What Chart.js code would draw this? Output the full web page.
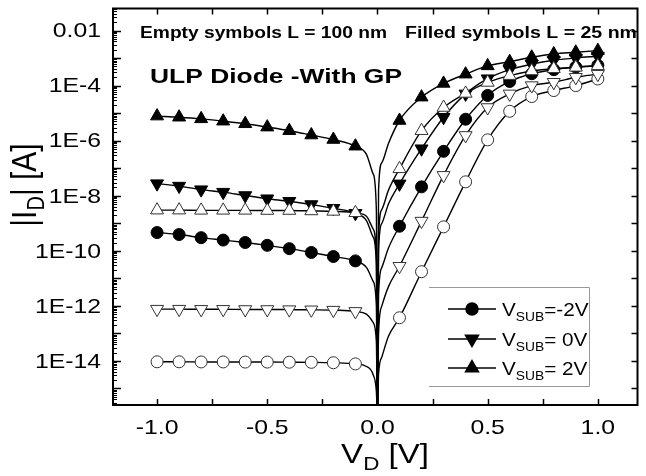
<!DOCTYPE html>
<html>
<head>
<meta charset="utf-8">
<script src="https://cdn.jsdelivr.net/npm/chart.js@4/dist/chart.umd.min.js"></script>
<style>
  html, body { margin: 0; padding: 0; background: #fff; }
  #wrap { width: 646px; height: 476px; }
</style>
</head>
<body>
<div id="wrap"><canvas id="graph1" width="646" height="476"></canvas></div>
<script>
// drain voltage at the measured points
const vNeg = [-1.0, -0.9, -0.8, -0.7, -0.6, -0.5, -0.4, -0.3, -0.2, -0.1];
const vPos = [0.1, 0.2, 0.3, 0.4, 0.5, 0.6, 0.7, 0.8, 0.9, 1.0];
// extra voltages where the fitted lines dive down to V=0
const vTail = [-0.05, -0.02, -0.005, 0, 0.005, 0.02, 0.05];

// |I_D| [A], L = 25 nm (filled symbols)
const sub2V_L25_neg = [7.8e-6, 7.1e-6, 6.2e-6, 5.1e-6, 4.1e-6, 3.1e-6, 2.3e-6, 1.6e-6, 1.1e-6, 6.3e-7];
const sub2V_L25_pos = [5.4e-6, 3.8e-5, 1.2e-4, 2.6e-4, 5.2e-4, 7.4e-4, 1.07e-3, 1.41e-3, 1.62e-3, 1.86e-3];
const sub2V_L25_tail = [3.2e-7, 6.3e-8, 3.2e-9, 1e-16, 1.6e-8, 1.6e-7, 7.9e-7];

const sub0V_L25_neg = [2.75e-8, 2.24e-8, 1.66e-8, 1.35e-8, 1.02e-8, 7.8e-9, 6.3e-9, 4.8e-9, 3.5e-9, 2.3e-9];
const sub0V_L25_pos = [2.7e-8, 5.1e-7, 7.1e-6, 5.0e-5, 1.78e-4, 3.8e-4, 6.0e-4, 8.3e-4, 1.02e-3, 1.17e-3];
const sub0V_L25_tail = [1.26e-9, 3.2e-10, 3.2e-11, 1e-16, 1e-10, 1e-9, 5e-9];

const subM2V_L25_neg = [4.6e-10, 3.9e-10, 3.0e-10, 2.45e-10, 2.0e-10, 1.58e-10, 1.2e-10, 8.7e-11, 6.2e-11, 4.3e-11];
const subM2V_L25_pos = [7.8e-10, 2.1e-8, 4.1e-7, 6.0e-6, 4.4e-5, 1.41e-4, 2.7e-4, 3.8e-4, 4.7e-4, 5.4e-4];
const subM2V_L25_tail = [2.5e-11, 7.9e-12, 1e-12, 1e-16, 2.5e-12, 2.5e-11, 1.26e-10];

// |I_D| [A], L = 100 nm (empty symbols)
const sub2V_L100_neg = [3.0e-9, 3.0e-9, 2.95e-9, 2.95e-9, 2.95e-9, 2.9e-9, 2.9e-9, 2.8e-9, 2.7e-9, 2.4e-9];
const sub2V_L100_pos = [9.5e-8, 2.3e-6, 1.6e-5, 5.2e-5, 1.3e-4, 2.3e-4, 3.4e-4, 4.1e-4, 4.6e-4, 5.2e-4];
const sub2V_L100_tail = [1.8e-9, 6.3e-10, 6.3e-11, 1e-16, 3.2e-10, 3.2e-9, 1.6e-8];

const sub0V_L100_neg = [7.6e-13, 7.6e-13, 7.5e-13, 7.5e-13, 7.4e-13, 7.4e-13, 7.3e-13, 7.2e-13, 7.0e-13, 6.3e-13];
const sub0V_L100_pos = [2.75e-11, 1.2e-9, 5.5e-8, 1.55e-6, 1.6e-5, 5.0e-5, 1.0e-4, 1.32e-4, 2.0e-4, 2.6e-4];
const sub0V_L100_tail = [5e-13, 2.5e-13, 5e-14, 1e-16, 1e-13, 1e-12, 5e-12];

const subM2V_L100_neg = [9.3e-15, 9.3e-15, 9.2e-15, 9.2e-15, 9.1e-15, 9.1e-15, 9.0e-15, 8.9e-15, 8.6e-15, 7.8e-15];
const subM2V_L100_pos = [3.7e-13, 1.74e-11, 7.4e-10, 3.2e-8, 1.07e-6, 1.17e-5, 4.0e-5, 6.6e-5, 1.0e-4, 1.74e-4];
const subM2V_L100_tail = [6.3e-15, 3.2e-15, 7.9e-16, 1e-16, 3.2e-15, 1.4e-14, 7.9e-14];

// axis ticks
const xTickVals = [-1.0, -0.5, 0.0, 0.5, 1.0];
const xTickLabels = ["-1.0", "-0.5", "0.0", "0.5", "1.0"];
const xMinorVals = [-1.0, -0.75, -0.5, -0.25, 0.0, 0.25, 0.5, 0.75, 1.0];
const yTickVals = [1e-2, 1e-4, 1e-6, 1e-8, 1e-10, 1e-12, 1e-14];
const yTickLabels = ["0.01", "1E-4", "1E-6", "1E-8", "1E-10", "1E-12", "1E-14"];

const legendLabels = ["-2V", " 0V", " 2V"];

const FONT = '"Liberation Sans", Arial, sans-serif';

function pts(xs, ys) {
  return xs.map((x, i) => ({x: x, y: ys[i]}));
}

function markerSet(neg, pos, style, rotation, filled) {
  return {
    data: pts(vNeg.concat(vPos), neg.concat(pos)),
    showLine: false,
    pointStyle: style,
    rotation: rotation,
    pointRadius: style === "circle" ? 6 : 7.5,
    pointBackgroundColor: filled ? "#000" : "#fff",
    pointBorderColor: filled ? "#000" : "#333",
    pointBorderWidth: 1,
    pointHoverRadius: 0,
  };
}

function curveSet(neg, tail, pos) {
  const xs = vNeg.concat(vTail, vPos);
  const ys = neg.concat(tail, pos);
  return {
    data: pts(xs, ys),
    showLine: true,
    pointRadius: 0,
    borderColor: "#000",
    borderWidth: 1.4,
    cubicInterpolationMode: "monotone",
  };
}

function stretchText(ctx, text, x, y, sx, align) {
  ctx.save();
  ctx.translate(x, y);
  ctx.scale(sx, 1);
  ctx.textAlign = align;
  ctx.fillText(text, 0, 0);
  ctx.restore();
}

function fitText(ctx, text, x0, x1, y) {
  const w = ctx.measureText(text).width;
  stretchText(ctx, text, x0, y, (x1 - x0) / w, "left");
}

// text with a subscript; parts = [[text, size, dy], ...]
function richText(ctx, parts, x, y, sx, align, bold) {
  let total = 0;
  const widths = parts.map(p => {
    ctx.font = (bold ? "bold " : "") + p[1] + "px " + FONT;
    const w = ctx.measureText(p[0]).width;
    total += w;
    return w;
  });
  ctx.save();
  ctx.translate(x, y);
  ctx.scale(sx, 1);
  let cx = align === "center" ? -total / 2 : 0;
  ctx.textAlign = "left";
  parts.forEach((p, i) => {
    ctx.font = (bold ? "bold " : "") + p[1] + "px " + FONT;
    ctx.fillText(p[0], cx, p[2]);
    cx += widths[i];
  });
  ctx.restore();
}

function marker(ctx, style, rotation, x, y) {
  const opts = {pointStyle: style, rotation: rotation, radius: style === "circle" ? 6 : 7.5, borderWidth: 1};
  ctx.fillStyle = "#000";
  ctx.strokeStyle = "#000";
  Chart.helpers.drawPoint(ctx, opts, x, y);
}

const decor = {
  id: "decor",
  afterDraw(chart) {
    const ctx = chart.ctx;
    const a = chart.chartArea;
    const xs = chart.scales.x;
    const ys = chart.scales.y;

    ctx.save();
    ctx.strokeStyle = "#000";
    ctx.fillStyle = "#000";
    ctx.lineWidth = 1.5;

    function seg(x0, y0, x1, y1) {
      ctx.beginPath();
      ctx.moveTo(x0, y0);
      ctx.lineTo(x1, y1);
      ctx.stroke();
    }

    // x ticks, pointing inwards on bottom and top
    xMinorVals.forEach(v => {
      const px = Math.round(xs.getPixelForValue(v)) + 0.5;
      seg(px, a.bottom, px, a.bottom - 6);
      seg(px, a.top, px, a.top + 6);
    });

    // y ticks: decades + minors on the left, decades on the right
    for (let e = -16; e <= -1; e++) {
      for (let m = 1; m < 10; m++) {
        const v = m * Math.pow(10, e);
        if (v < ys.min || v > ys.max) continue;
        const py = Math.round(ys.getPixelForValue(v)) + 0.5;
        if (m === 1) {
          seg(a.left, py, a.left + 8, py);
          seg(a.right, py, a.right - 6, py);
        } else {
          ctx.lineWidth = 1;
          seg(a.left, py, a.left + 4, py);
          ctx.lineWidth = 1.5;
        }
      }
    }

    // frame
    ctx.lineWidth = 2;
    ctx.strokeRect(a.left, a.top, a.right - a.left, a.bottom - a.top);

    // tick labels
    ctx.font = "21px " + FONT;
    ctx.textBaseline = "middle";
    yTickVals.forEach((v, i) => {
      stretchText(ctx, yTickLabels[i], 101, ys.getPixelForValue(v) + 1, 1.18, "right");
    });
    xTickVals.forEach((v, i) => {
      stretchText(ctx, xTickLabels[i], xs.getPixelForValue(v), 428, 1.18, "center");
    });

    // axis titles
    ctx.textBaseline = "alphabetic";
    richText(ctx, [["V", 28, 0], ["D", 19, 7], [" [V]", 28, 0]], 385, 463, 1.18, "center");
    ctx.save();
    ctx.translate(36, 185);
    ctx.scale(1.18, 1);
    ctx.rotate(-Math.PI / 2);
    richText(ctx, [["|I", 30, 0], ["D", 20, 7], ["| [A]", 30, 0]], 0, 0, 1, "center");
    ctx.restore();

    // annotations
    ctx.font = "bold 16px " + FONT;
    fitText(ctx, "Empty symbols L = 100 nm", 140, 387, 38);
    fitText(ctx, "Filled symbols L = 25 nm", 405, 637, 38);
    ctx.font = "bold 21px " + FONT;
    fitText(ctx, "ULP Diode -With GP", 150, 402, 83);

    // legend
    ctx.strokeStyle = "#999";
    ctx.lineWidth = 1;
    ctx.beginPath();
    ctx.moveTo(429, 287.5);
    ctx.lineTo(589.5, 287.5);
    ctx.lineTo(589.5, 386.5);
    ctx.lineTo(429, 386.5);
    ctx.stroke();
    const styles = [["circle", 0], ["triangle", 180], ["triangle", 0]];
    const rowsY = [309, 339, 368];
    ctx.strokeStyle = "#000";
    styles.forEach((s, i) => {
      const ry = rowsY[i];
      ctx.lineWidth = 1.5;
      seg(448, ry, 496, ry);
      marker(ctx, s[0], s[1], 472, ry);
      ctx.fillStyle = "#000";
      richText(ctx, [["V", 18, 0], ["SUB", 12, 5], ["=" + legendLabels[i], 18, 0]], 502, ry + 7, 1.15, "left");
    });

    ctx.restore();
  }
};

const graph1 = new Chart(document.getElementById("graph1").getContext("2d"), {
  type: "scatter",
  data: {
    datasets: [
      markerSet(sub2V_L100_neg, sub2V_L100_pos, "triangle", 0, false),
      markerSet(sub0V_L100_neg, sub0V_L100_pos, "triangle", 180, false),
      markerSet(subM2V_L100_neg, subM2V_L100_pos, "circle", 0, false),
      markerSet(sub2V_L25_neg, sub2V_L25_pos, "triangle", 0, true),
      markerSet(sub0V_L25_neg, sub0V_L25_pos, "triangle", 180, true),
      markerSet(subM2V_L25_neg, subM2V_L25_pos, "circle", 0, true),
      curveSet(sub2V_L25_neg, sub2V_L25_tail, sub2V_L25_pos),
      curveSet(sub0V_L25_neg, sub0V_L25_tail, sub0V_L25_pos),
      curveSet(subM2V_L25_neg, subM2V_L25_tail, subM2V_L25_pos),
      curveSet(sub2V_L100_neg, sub2V_L100_tail, sub2V_L100_pos),
      curveSet(sub0V_L100_neg, sub0V_L100_tail, sub0V_L100_pos),
      curveSet(subM2V_L100_neg, subM2V_L100_tail, subM2V_L100_pos),
    ],
  },
  options: {
    responsive: false,
    animation: false,
    events: [],
    layout: { padding: { top: 8, right: 1, left: 0, bottom: 0 } },
    plugins: {
      legend: { display: false },
      tooltip: { enabled: false },
    },
    scales: {
      x: {
        type: "linear",
        min: -1.2,
        max: 1.18,
        grid: { display: false, drawTicks: false },
        border: { display: false },
        ticks: { display: false },
        afterFit: (scale) => { scale.height = 71; },
      },
      y: {
        type: "logarithmic",
        min: Math.pow(10, -15.6),
        max: Math.pow(10, -1.2),
        grid: { display: false, drawTicks: false },
        border: { display: false },
        ticks: { display: false },
        afterFit: (scale) => { scale.width = 113; },
      },
    },
  },
  plugins: [decor],
});
</script>
</body>
</html>
